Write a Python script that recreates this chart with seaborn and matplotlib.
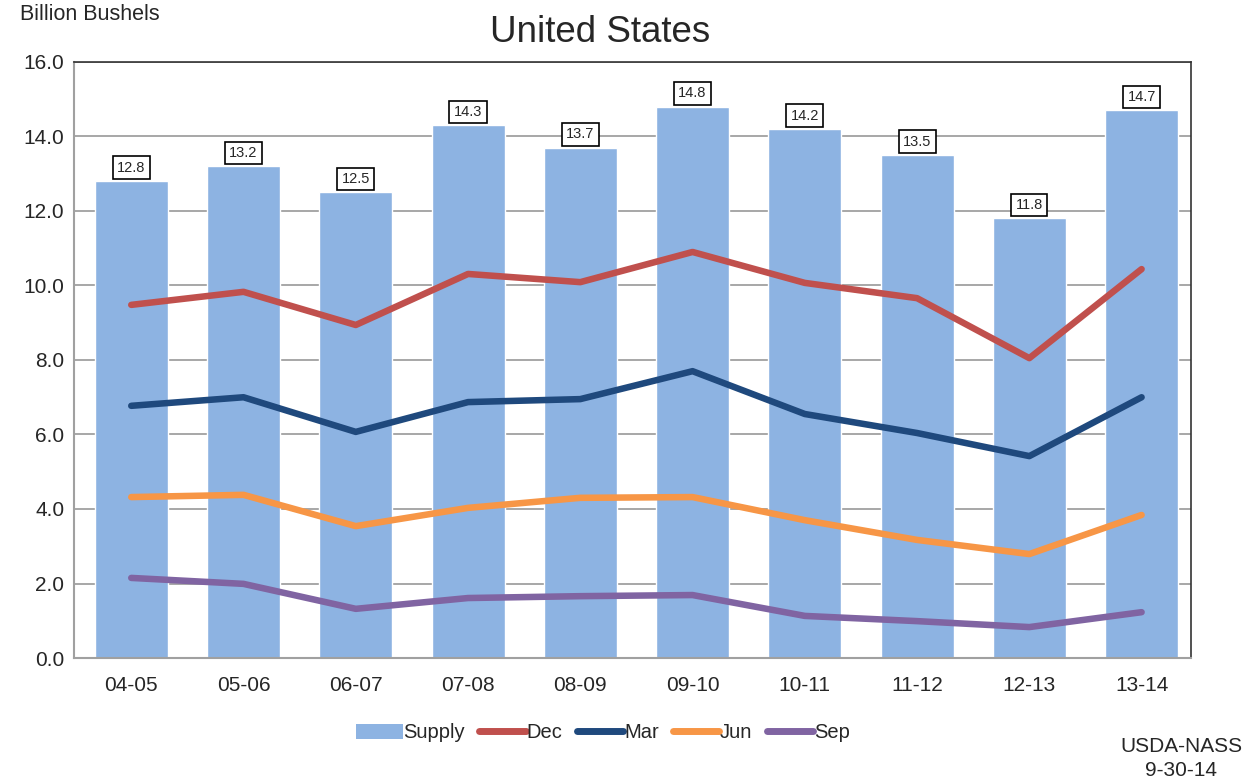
import matplotlib
matplotlib.use("Agg")
import matplotlib.pyplot as plt
import seaborn as sns
import pandas as pd
from matplotlib.patches import Patch
from matplotlib.lines import Line2D

seasons = ["04-05", "05-06", "06-07", "07-08", "08-09", "09-10", "10-11", "11-12", "12-13", "13-14"]
supply = [12.8, 13.2, 12.5, 14.3, 13.7, 14.8, 14.2, 13.5, 11.8, 14.7]
dec = [9.48, 9.83, 8.94, 10.31, 10.09, 10.90, 10.07, 9.66, 8.05, 10.44]
mar = [6.77, 7.00, 6.07, 6.87, 6.95, 7.70, 6.55, 6.04, 5.42, 7.00]
jun = [4.32, 4.38, 3.54, 4.03, 4.30, 4.32, 3.70, 3.17, 2.79, 3.84]
sep = [2.15, 1.99, 1.32, 1.61, 1.66, 1.69, 1.13, 0.99, 0.83, 1.23]
yticks = [0, 2, 4, 6, 8, 10, 12, 14, 16]

series_names = ["Dec", "Mar", "Jun", "Sep"]
series_vals = [dec, mar, jun, sep]
colors = {"Supply": "#8DB3E2", "Dec": "#C0504D", "Mar": "#1F497D", "Jun": "#F79646", "Sep": "#8064A2"}

sns.set_style("white")
plt.rcParams["font.family"] = ["Liberation Sans", "DejaVu Sans"]

fig = plt.figure(figsize=(12.49, 7.82), dpi=100)
ax = fig.add_axes([74 / 1249, (782 - 658) / 782, (1191 - 74) / 1249, 596 / 782])

bar_df = pd.DataFrame({"season": seasons, "supply": supply})
sns.barplot(data=bar_df, x="season", y="supply", color=colors["Supply"], saturation=1,
            width=0.65, ax=ax, zorder=2)

line_df = pd.DataFrame({
    "season": seasons * len(series_names),
    "value": [v for vals in series_vals for v in vals],
    "series": [n for n in series_names for _ in seasons],
})
line_df["pos"] = line_df["season"].map({s: i for i, s in enumerate(seasons)})
sns.lineplot(data=line_df, x="pos", y="value", hue="series", palette=colors,
             linewidth=4.7, ax=ax, legend=False, zorder=3, solid_capstyle="round")

for i, v in enumerate(supply):
    ax.text(i, v + 0.17, f"{v:.1f}", ha="center", va="bottom", fontsize=10.5,
            bbox=dict(boxstyle="square,pad=0.3", facecolor="white", edgecolor="black", linewidth=1.2),
            zorder=4)

ax.set_ylim(0, 16)
ax.set_xlim(-0.51, 9.44)
ax.set_yticks(yticks)
ax.set_yticklabels([f"{t:.1f}" for t in yticks], fontsize=15)
ax.set_xticks(range(len(seasons)))
ax.set_xticklabels(seasons, fontsize=15)
ax.set_xlabel("")
ax.set_ylabel("")
ax.yaxis.grid(True, color="#A0A0A0", linewidth=1.3, zorder=0)
ax.set_axisbelow(True)
ax.tick_params(axis="y", length=0, pad=7)
ax.tick_params(axis="x", length=0, pad=13)
for side in ["left", "bottom"]:
    ax.spines[side].set_color("#A0A0A0")
    ax.spines[side].set_linewidth(1.5)
for side in ["top", "right"]:
    ax.spines[side].set_visible(True)
    ax.spines[side].set_color("#333333")
    ax.spines[side].set_linewidth(1.2)

fig.text(600 / 1249, 1 - 33 / 782, "United States", ha="center", va="center", fontsize=26.5)
fig.text(20 / 1249, 1 - 15 / 782, "Billion Bushels", ha="left", va="center", fontsize=15.5)
fig.text(1181 / 1249, 1 - 747 / 782, "USDA-NASS", ha="center", va="center", fontsize=15)
fig.text(1181 / 1249, 1 - 771 / 782, "9-30-14", ha="center", va="center", fontsize=15)

handles = [Patch(facecolor=colors["Supply"], edgecolor="none")]
handles += [Line2D([0], [0], color=colors[n], linewidth=5, solid_capstyle="round") for n in series_names]
labels = ["Supply"] + series_names
fig.legend(handles, labels, loc="center", bbox_to_anchor=(603 / 1249, 1 - 733 / 782), ncol=5,
           frameon=False, fontsize=14.5, handlelength=2.3, handletextpad=0.05, columnspacing=0.7)

fig.savefig("out.png", dpi=100)
